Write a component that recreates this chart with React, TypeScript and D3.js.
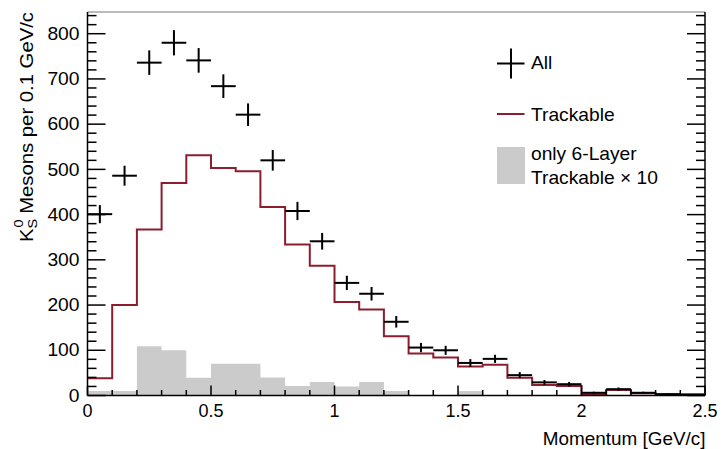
import React from "react";
import * as d3 from "d3";

// Momentum bin lower edges (GeV/c), bin width 0.1
const binEdges = [0, 0.1, 0.2, 0.3, 0.4, 0.5, 0.6, 0.7, 0.8, 0.9, 1.0, 1.1, 1.2, 1.3, 1.4, 1.5, 1.6, 1.7, 1.8, 1.9, 2.0, 2.1, 2.2, 2.3, 2.4];
const binWidth = 0.1;

// All K0s mesons per bin
const allCounts = [401, 486, 736, 780, 741, 684, 621, 520, 408, 341, 249, 225, 163, 106, 100, 72, 81, 45, 29, 25, 6, 14, 6, 3, 2];
// Trackable K0s mesons per bin
const trackableCounts = [38, 200, 367, 470, 531, 503, 496, 417, 334, 287, 207, 190, 131, 93, 84, 64, 68, 39, 23, 21, 3, 12, 5, 2, 2];
// Only-6-layer trackable, scaled by 10
const sixLayerCounts = [10, 10, 109, 100, 39, 70, 70, 40, 21, 30, 20, 30, 10, 0, 0, 10, 0, 0, 0, 0, 0, 0, 0, 0, 0];

const xTickLabels = [0, 0.5, 1, 1.5, 2, 2.5];
const yTickLabels = [0, 100, 200, 300, 400, 500, 600, 700, 800];

const W = 721;
const H = 449;
const frame = { left: 87.5, right: 705, top: 12, bottom: 395.5 };
const FONT = "'Liberation Sans', Arial, Helvetica, sans-serif";
const RED = "#8c1d2e";
const GRAY = "#cbcbcb";

// Horizontal text with a slight horizontal stretch (Helvetica as rendered is a bit wider)
function HText(props: { x: number; y: number; size: number; sx?: number; anchor?: string; children: React.ReactNode }) {
  const { x, y, size, sx = 1.05, anchor = "start", children } = props;
  return (
    <text transform={`translate(${x},${y}) scale(${sx},1)`} fontSize={size} textAnchor={anchor} fill="#000">
      {children}
    </text>
  );
}

export default function App() {
  const x = d3.scaleLinear().domain([0, 2.5]).range([frame.left, frame.right]);
  const y = d3.scaleLinear().domain([0, 848]).range([frame.bottom, frame.top]);

  const stepPts = (vals: number[]) => {
    const pts: [number, number][] = binEdges.map((e, i) => [e, vals[i]]);
    pts.push([binEdges[binEdges.length - 1] + binWidth, vals[vals.length - 1]]);
    return pts;
  };

  const stepLine = d3
    .line<[number, number]>()
    .x((d) => x(d[0]))
    .y((d) => y(d[1]))
    .curve(d3.curveStepAfter);

  const stepArea = d3
    .area<[number, number]>()
    .x((d) => x(d[0]))
    .y0(y(0))
    .y1((d) => y(d[1]))
    .curve(d3.curveStepAfter);

  const xMinor = d3.range(0, 2.5001, 0.1);
  const yMinor = d3.range(0, 848, 20);

  return (
    <svg width={W} height={H} style={{ position: "absolute", left: 0, top: 0, background: "#fff" }} fontFamily={FONT}>
      {/* six-layer histogram (filled) */}
      <path d={stepArea(stepPts(sixLayerCounts)) || ""} fill={GRAY} stroke="none" />

      {/* trackable histogram */}
      <path d={stepLine(stepPts(trackableCounts)) || ""} fill="none" stroke={RED} strokeWidth={2} />

      {/* all: crosses with bin-width and sqrt(N) error bars */}
      {binEdges.map((e, i) => {
        const v = allCounts[i];
        const err = Math.sqrt(v);
        const cx = x(e + binWidth / 2);
        return (
          <g key={i} stroke="#000" strokeWidth={2}>
            <line x1={x(e)} x2={x(e + binWidth)} y1={y(v)} y2={y(v)} />
            <line x1={cx} x2={cx} y1={y(v + err)} y2={y(Math.max(0, v - err))} />
          </g>
        );
      })}

      {/* frame */}
      <line x1={frame.left} x2={frame.right} y1={frame.top} y2={frame.top} stroke="#777" strokeWidth={1} />
      <line x1={frame.left} x2={frame.right} y1={frame.bottom} y2={frame.bottom} stroke="#000" strokeWidth={1.5} />
      <line x1={frame.left} x2={frame.left} y1={frame.top} y2={frame.bottom} stroke="#000" strokeWidth={1.5} />
      <line x1={frame.right} x2={frame.right} y1={frame.top} y2={frame.bottom} stroke="#000" strokeWidth={1.5} />

      {/* x ticks */}
      {xMinor.map((t, i) => {
        const major = i % 5 === 0;
        return (
          <line key={"xt" + i} x1={x(t)} x2={x(t)} y1={frame.bottom} y2={frame.bottom - (major ? 10 : 5.5)} stroke="#000" strokeWidth={1.5} />
        );
      })}
      {xTickLabels.map((t) => (
        <HText key={"xl" + t} x={x(t)} y={417} size={17.5} sx={1.03} anchor="middle">
          {String(t)}
        </HText>
      ))}

      {/* y ticks, left and right */}
      {yMinor.map((t, i) => {
        const major = i % 5 === 0;
        const len = major ? 18 : 9;
        return (
          <g key={"yt" + i} stroke="#000" strokeWidth={1.5}>
            <line x1={frame.left} x2={frame.left + len} y1={y(t)} y2={y(t)} />
            <line x1={frame.right} x2={frame.right - len} y1={y(t)} y2={y(t)} />
          </g>
        );
      })}
      {yTickLabels.map((t) => (
        <HText key={"yl" + t} x={79.5} y={y(t) + 6.2} size={17.5} sx={1.1} anchor="end">
          {String(t)}
        </HText>
      ))}

      {/* axis titles */}
      <HText x={705.5} y={445} size={17.5} sx={1.08} anchor="end">
        Momentum [GeV/c]
      </HText>
      <text transform="translate(32.7,12) rotate(-90) scale(1.16,1)" fontSize={17.5} textAnchor="end" fill="#000">
        K
        <tspan fontSize={12.5} dy={4.5}>S</tspan>
        <tspan fontSize={12.5} dx={-7.5} dy={-14}>0</tspan>
        <tspan dy={9.5}> Mesons per 0.1 GeV/c</tspan>
      </text>

      {/* legend */}
      <g stroke="#000" strokeWidth={2}>
        <line x1={497} x2={524.5} y1={63.5} y2={63.5} />
        <line x1={511} x2={511} y1={48.5} y2={78.5} />
      </g>
      <HText x={531} y={69} size={18.3}>All</HText>
      <line x1={497} x2={524.5} y1={114} y2={114} stroke={RED} strokeWidth={2} />
      <HText x={531} y={120.5} size={18.3}>Trackable</HText>
      <rect x={497} y={147} width={28} height={37} fill={GRAY} />
      <HText x={531} y={160} size={18.3}>only 6-Layer</HText>
      <HText x={531} y={184} size={18.3}>Trackable × 10</HText>
    </svg>
  );
}
